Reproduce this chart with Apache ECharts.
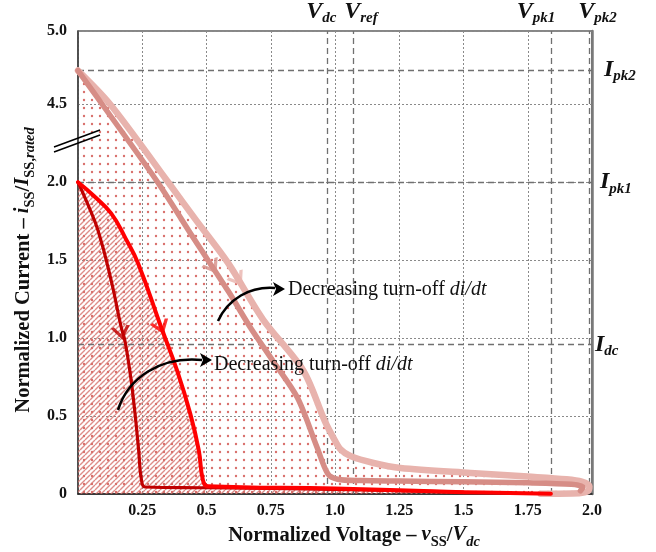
<!DOCTYPE html>
<html><head><meta charset="utf-8">
<script src="https://cdn.jsdelivr.net/npm/echarts@6/dist/echarts.min.js"></script>
<style>html,body{margin:0;padding:0;background:#fff}#c{width:656px;height:552px}</style>
</head><body><div id="c"></div>
<script>
// ---------- data (true values; y axis is broken between 2.0 and 4.5) ----------
const xTickValues = [0.25, 0.5, 0.75, 1.0, 1.25, 1.5, 1.75, 2.0];
const yTickLabels = ['0', '0.5', '1.0', '1.5', '2.0', '4.5', '5.0'];

const curveDarkRed = [[0,2.0],[0.035,1.87],[0.078,1.69],[0.129,1.37],[0.168,1.07],[0.183,0.98],[0.205,0.75],[0.222,0.514],[0.236,0.28],[0.247,0.09],[0.262,0.045],[0.5,0.04],[1.0,0.03],[1.5,0.012]];
const curveRed = [[0,2.0],[0.06,1.915],[0.129,1.80],[0.185,1.64],[0.234,1.479],[0.324,1.068],[0.386,0.79],[0.437,0.514],[0.47,0.28],[0.486,0.09],[0.505,0.05],[1.0,0.035],[1.5,0.012],[1.84,0.002]];
const curveMedium = [[0,4.73],[0.094,4.5],[0.31,2.0],[0.45,1.64],[0.585,1.30],[0.67,1.07],[0.76,0.85],[0.854,0.617],[0.93,0.30],[0.972,0.13],[1.01,0.095],[1.1,0.086],[1.25,0.083],[1.5,0.078],[1.75,0.072],[1.92,0.062],[1.965,0.045],[1.955,0.02]];
const curveLight = [[0,4.73],[0.125,4.5],[0.351,2.0],[0.46,1.755],[0.585,1.479],[0.72,1.119],[0.877,0.791],[0.96,0.469],[0.994,0.36],[1.02,0.289],[1.06,0.244],[1.15,0.199],[1.255,0.167],[1.528,0.135],[1.75,0.112],[1.9,0.095],[1.96,0.08],[1.99,0.05],[1.985,0.02],[1.95,0.005],[1.8,0.002]];

// direction chevrons on curves: [x, y, angle]
const chevronDarkRed = [0.168, 1.04, 11];
const chevronRed = [0.322, 1.075, 20];
const chevronMedium = [0.522, 1.46, 32];
const chevronLight = [0.62, 1.38, 33];

const vLineX = [0.975, 1.073, 1.837, 1.985];
const vLineSub = ['dc', 'ref', 'pk1', 'pk2'];
const hLineY = [4.73, 2.0, 0.965];
const hLineSub = ['pk2', 'pk1', 'dc'];

const annotationText = 'Decreasing turn-off ';
const annotationItalic = 'di/dt';

// ---------- broken-axis mapping ----------
const BREAK_LO = 2.0, BREAK_HI = 4.5, BREAK_V = 2.5, TOP_SCALE = 0.94;
function fwd(y) {
  if (y <= BREAK_LO) return y;
  if (y >= BREAK_HI) return BREAK_V + (y - BREAK_HI) * TOP_SCALE;
  return BREAK_LO + (y - BREAK_LO) * (BREAK_V - BREAK_LO) / (BREAK_HI - BREAK_LO);
}
const Y_MAX = fwd(5.0);
function tickLabelFor(v) {
  const idx = Math.round(v / 0.5);
  if (v > BREAK_V + 0.1) return yTickLabels[6];
  return yTickLabels[idx] || '';
}
const mapPts = arr => arr.map(p => [p[0], fwd(p[1])]);

// ---------- patterns ----------
function dotPattern() {
  const c = document.createElement('canvas'); c.width = 8; c.height = 8;
  const g = c.getContext('2d'); g.fillStyle = '#d9706c';
  g.beginPath(); g.arc(4, 4, 1.2, 0, Math.PI * 2); g.fill();
  return c;
}
function hatchPattern() {
  const s = 5;
  const c = document.createElement('canvas'); c.width = s; c.height = s;
  const g = c.getContext('2d'); g.strokeStyle = 'rgba(214,112,108,0.8)'; g.lineWidth = 1.4;
  g.beginPath();
  for (const o of [-s, 0, s]) { g.moveTo(o, s); g.lineTo(o + s, 0); }
  g.stroke();
  return c;
}

const SERIF = 'Liberation Serif';
const C_DARK = '#c00000', C_RED = '#ff0000', C_MED = '#d68d86', C_LIGHT = '#e8b3ad';

const chart = echarts.init(document.getElementById('c'), null, {renderer: 'canvas'});

const subRich = {
  V: {fontFamily: SERIF, fontSize: 24, fontStyle: 'italic', fontWeight: 'bold', color: '#111', lineHeight: 24, verticalAlign: 'top'},
  s: {fontFamily: SERIF, fontSize: 15, fontStyle: 'italic', fontWeight: 'bold', color: '#111', lineHeight: 14, verticalAlign: 'top', padding: [11, 0, 0, 0]}
};
const vPad = [[0, 12, 0, 0], [0, 0, 0, 16], [0, 30, 0, 0], [0, 0, 0, 16]];
const hDist = [12, 8, 3];

const markData = [];
vLineX.forEach((x, i) => markData.push({
  xAxis: x,
  label: {show: true, position: 'end', distance: 7, formatter: '{V|V}{s|' + vLineSub[i] + '}', rich: subRich, padding: vPad[i]}
}));
hLineY.forEach((y, i) => markData.push({
  yAxis: fwd(y),
  label: {show: true, position: 'end', distance: hDist[i], formatter: '{V|I}{s|' + hLineSub[i] + '}', rich: subRich}
}));

function chevron(c, color) {
  return {
    type: 'scatter', z: 8, silent: true,
    symbol: 'path://M0,0L10,9L20,0', symbolSize: [16, 11], symbolRotate: c[2],
    itemStyle: {color: 'rgba(0,0,0,0)', borderColor: color, borderWidth: 3},
    data: [[c[0], fwd(c[1])]]
  };
}

const titleRich = {
  b: {fontFamily: SERIF, fontWeight: 'bold', fontSize: 20.5, lineHeight: 22, verticalAlign: 'top', fill: '#111'},
  i: {fontFamily: SERIF, fontWeight: 'bold', fontStyle: 'italic', fontSize: 20.5, lineHeight: 22, verticalAlign: 'top', fill: '#111'},
  s: {fontFamily: SERIF, fontWeight: 'bold', fontSize: 14.5, lineHeight: 14, verticalAlign: 'top', padding: [10, 0, 0, 0], fill: '#111'},
  si: {fontFamily: SERIF, fontWeight: 'bold', fontStyle: 'italic', fontSize: 14.5, lineHeight: 14, verticalAlign: 'top', padding: [10, 0, 0, 0], fill: '#111'}
};
const noteRich = {n: {fontFamily: SERIF, fontSize: 20, fill: '#111'}, i: {fontFamily: SERIF, fontSize: 20, fontStyle: 'italic', fill: '#111'}};

const option = {
  backgroundColor: '#fff',
  animation: false,
  grid: {left: 78, right: 64, top: 31, bottom: 58, show: true, borderColor: '#111', borderWidth: 1.2, outerBoundsMode: 'none', containLabel: false},
  xAxis: [{
    type: 'value', min: 0, max: 2, interval: 0.25,
    axisLine: {show: true, lineStyle: {color: '#222', width: 1.5}},
    axisTick: {show: false},
    splitLine: {show: true, lineStyle: {type: [2, 2], color: '#8a8a8a', width: 1}},
    axisLabel: {
      margin: 9, fontFamily: SERIF, fontWeight: 'bold', fontSize: 16, color: '#111',
      formatter: v => (v === 0 ? '' : (v % 0.5 === 0 ? v.toFixed(1) : String(v)))
    }
  }],
  yAxis: [{
    type: 'value', min: 0, max: Y_MAX, interval: 0.5,
    axisLine: {show: true, lineStyle: {color: '#444', width: 1.5}},
    axisTick: {show: false},
    splitLine: {show: true, lineStyle: {type: [2, 2], color: '#8a8a8a', width: 1}},
    axisLabel: {margin: 11, fontFamily: SERIF, fontWeight: 'bold', fontSize: 16, color: '#111', formatter: v => tickLabelFor(v)}
  }, {
    type: 'value', position: 'right', min: 0, max: 1,
    axisLine: {show: true, lineStyle: {color: '#7a7a7a', width: 2.5}},
    axisTick: {show: false}, axisLabel: {show: false}, splitLine: {show: false}
  }],
  series: [
    {type: 'line', z: 1, silent: true, data: mapPts(curveLight), showSymbol: false, smooth: 0.3, lineStyle: {width: 0},
     areaStyle: {color: {image: dotPattern(), repeat: 'repeat'}, opacity: 1}},
    {type: 'line', z: 2, silent: true, data: mapPts(curveRed), showSymbol: false, smooth: 0.45, lineStyle: {width: 0},
     areaStyle: {color: {image: hatchPattern(), repeat: 'repeat'}, opacity: 1}},
    {type: 'line', z: 3, silent: true, data: [], markLine: {
      silent: true, symbol: ['none', 'none'], animation: false,
      lineStyle: {type: [6, 4], color: '#707070', width: 1.3},
      data: markData
    }},
    {type: 'line', z: 5, silent: true, data: mapPts(curveLight), showSymbol: false, smooth: 0.3,
     lineStyle: {color: C_LIGHT, width: 6.5, cap: 'round', join: 'round'}},
    {type: 'line', z: 6, silent: true, data: mapPts(curveMedium), showSymbol: false, smooth: 0.3,
     lineStyle: {color: C_MED, width: 5.5, cap: 'round', join: 'round'}},
    {type: 'line', z: 7, silent: true, data: mapPts(curveDarkRed), showSymbol: false, smooth: 0.45,
     lineStyle: {color: C_DARK, width: 3.2, cap: 'round', join: 'round'}},
    {type: 'line', z: 7, silent: true, data: mapPts(curveRed), showSymbol: false, smooth: 0.45,
     lineStyle: {color: C_RED, width: 4, cap: 'round', join: 'round'}},
    chevron(chevronDarkRed, C_DARK),
    chevron(chevronRed, C_RED),
    chevron(chevronMedium, C_MED),
    chevron(chevronLight, C_LIGHT)
  ],
  graphic: [
    {type: 'text', x: 354, y: 536, z: 10, style: {
      text: '{b|Normalized Voltage – }{i|v}{s|SS}{b|/}{i|V}{si|dc}', align: 'center', verticalAlign: 'middle', rich: titleRich}},
    {type: 'text', x: 24, y: 270, rotation: Math.PI / 2, z: 10, style: {
      text: '{b|Normalized Current – }{i|i}{s|SS}{b|/}{i|I}{s|SS,}{si|rated}', align: 'center', verticalAlign: 'middle', rich: titleRich}},
    {type: 'line', z: 10, shape: {x1: 54, y1: 152, x2: 100, y2: 135}, style: {stroke: '#000', lineWidth: 1.6}},
    {type: 'line', z: 10, shape: {x1: 54, y1: 147, x2: 100, y2: 130}, style: {stroke: '#000', lineWidth: 1.6}},
    {type: 'text', x: 288, y: 290, z: 10, style: {
      text: '{n|' + annotationText + '}{i|' + annotationItalic + '}', verticalAlign: 'middle', rich: noteRich}},
    {type: 'text', x: 214, y: 365, z: 10, style: {
      text: '{n|' + annotationText + '}{i|' + annotationItalic + '}', verticalAlign: 'middle', rich: noteRich}},
    {type: 'bezierCurve', z: 10, shape: {x1: 218, y1: 321, cpx1: 228, cpy1: 299, cpx2: 250, cpy2: 286, x2: 275, y2: 288}, style: {stroke: '#000', lineWidth: 2.6, fill: null}},
    {type: 'polygon', z: 10, shape: {points: [[285, 289], [273, 282], [276, 289], [273, 296]]}, style: {fill: '#000'}},
    {type: 'bezierCurve', z: 10, shape: {x1: 118, y1: 410, cpx1: 128, cpy1: 378, cpx2: 160, cpy2: 356, x2: 202, y2: 360}, style: {stroke: '#000', lineWidth: 2.6, fill: null}},
    {type: 'polygon', z: 10, shape: {points: [[212, 360], [200, 353], [203, 360], [200, 367]]}, style: {fill: '#000'}}
  ]
};
chart.setOption(option);
</script>
</body></html>
